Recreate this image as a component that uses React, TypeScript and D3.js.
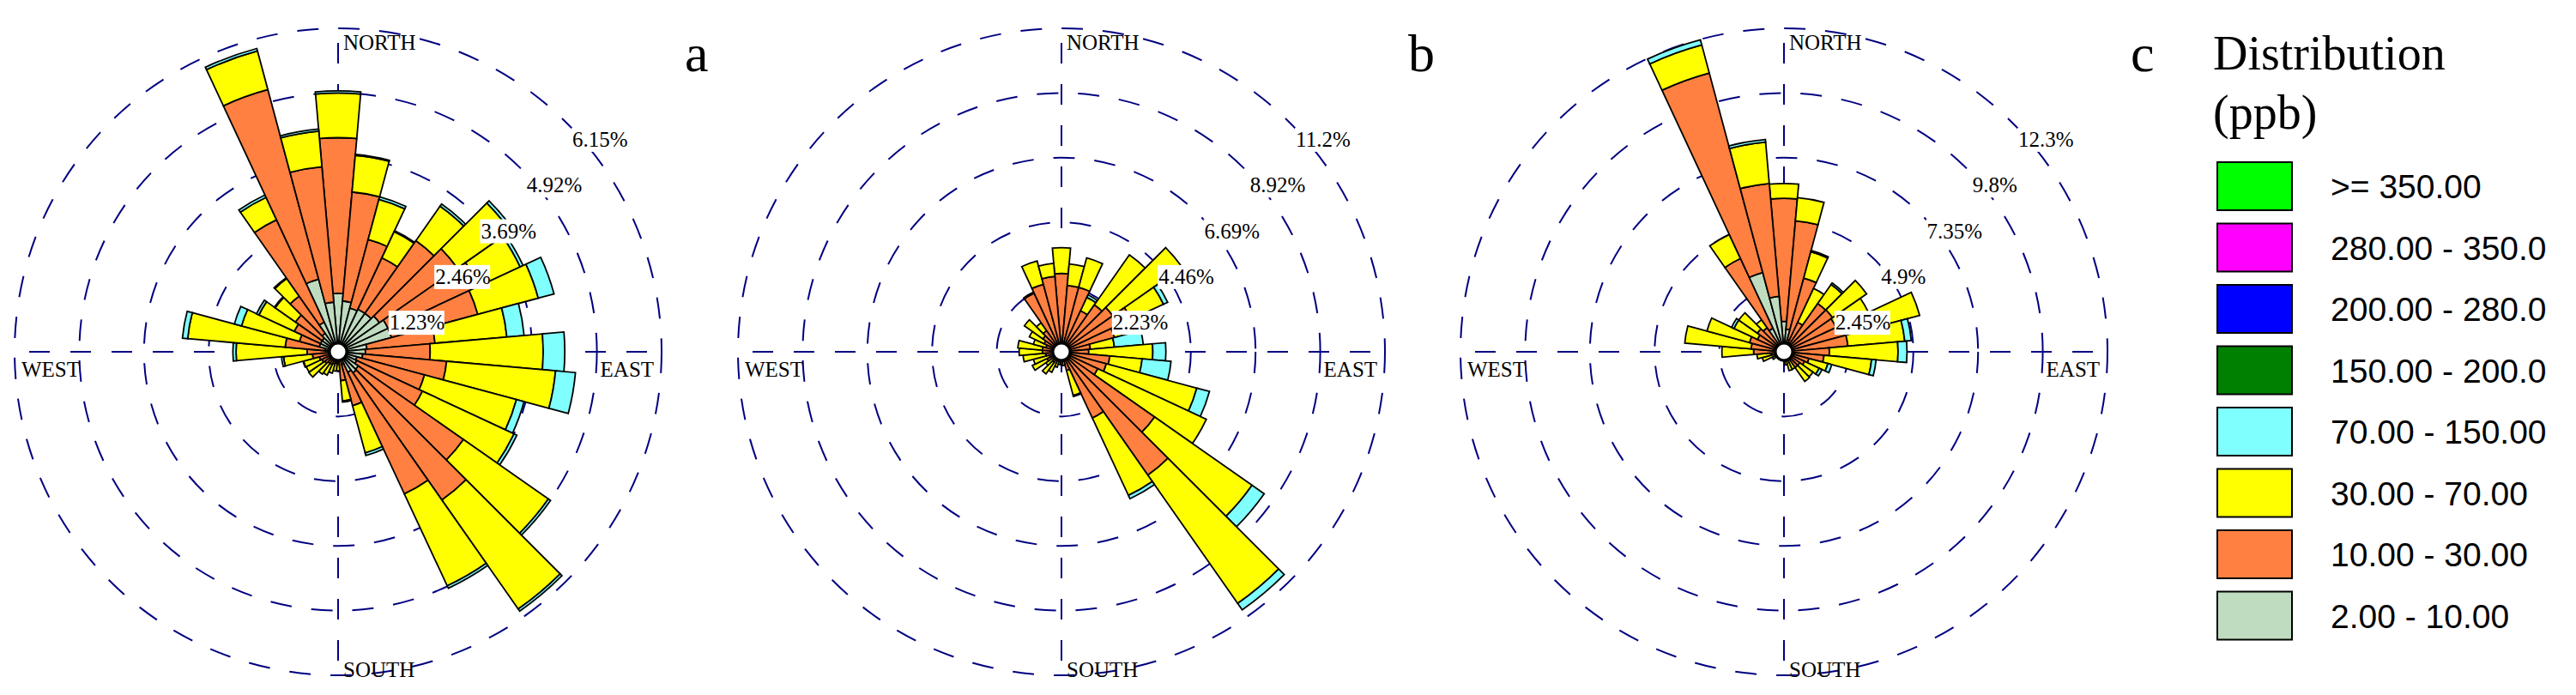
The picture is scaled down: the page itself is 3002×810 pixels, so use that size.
import React, { useEffect } from "react";
import * as d3 from "d3";

// ---------- DATA ----------
const DIRECTIONS = [0, 10, 20, 30, 40, 50, 60, 70, 80, 90, 100, 110, 120, 130, 140, 150, 160, 170,
  180, 190, 200, 210, 220, 230, 240, 250, 260, 270, 280, 290, 300, 310, 320, 330, 340, 350];

// Legend classes (top to bottom as in the legend)
const CLASS_LABELS = [">= 350.00", "280.00 - 350.0", "200.00 - 280.0", "150.00 - 200.0",
  "70.00 - 150.00", "30.00 - 70.00", "10.00 - 30.00", "2.00 - 10.00"];
const CLASS_COLORS = ["#00FF00", "#FF00FF", "#0000FF", "#008000", "#80FFFF", "#FFFF00", "#FF8040", "#C0DCC0"];
// colours of the stacked layers, inner to outer: 2-10, 10-30, 30-70, 70-150
const LAYER_COLORS = ["#C0DCC0", "#FF8040", "#FFFF00", "#80FFFF"];

// Panel a: frequency (%) per direction and class
const A_2_10 = [1.11, 0.97, 0.86, 0.89, 0.89, 0.96, 1.05, 1.05, 0.55, 0.52, 0.47, 0.37, 0.39, 0.47, 0.49, 0.43, 0.25, 0.12,
  0.06, 0.06, 0.06, 0.06, 0.06, 0.06, 0.06, 0.06, 0.12, 0.18, 0.25, 0.37, 0.37, 0.37, 0.43, 0.62, 1.43, 0.95];
const A_10_30 = [2.96, 2.08, 1.35, 1.08, 1.69, 1.81, 1.91, 1.70, 1.30, 1.23, 1.60, 1.33, 1.38, 2.44, 2.95, 2.55, 0.81, 0.43,
  0.18, 0.16, 0.18, 0.21, 0.21, 0.25, 0.28, 0.31, 0.37, 0.41, 0.76, 0.39, 0.55, 0.62, 0.86, 2.15, 3.73, 2.58];
const A_30_70 = [0.85, 0.70, 0.79, 0.55, 0.80, 1.23, 0.86, 1.19, 1.37, 2.15, 2.08, 1.81, 1.92, 1.97, 2.53, 1.93, 0.93, 0.39,
  0.12, 0.15, 0.18, 0.22, 0.25, 0.37, 0.33, 0.31, 0.55, 1.35, 1.86, 1.14, 0.74, 0.47, 0.41, 0.47, 0.76, 0.68];
const A_70_150 = [0.04, 0.02, 0.05, 0.02, 0.05, 0.06, 0.06, 0.31, 0.33, 0.41, 0.38, 0.15, 0.06, 0.05, 0.05, 0.05, 0.05, 0.02,
  0, 0, 0, 0, 0, 0, 0, 0.01, 0.04, 0.06, 0.10, 0.14, 0.05, 0.02, 0.02, 0.05, 0.05, 0.04];
const A_TICKS = [1.23, 2.46, 3.69, 4.92, 6.15];
const A_TICK_LABELS = ["1.23%", "2.46%", "3.69%", "4.92%", "6.15%"];

// Panel b
const B_2_10 = [0.11, 0.11, 0.11, 0.11, 0.11, 0.11, 0.11, 0.11, 0.11, 0.11, 0.11, 0.11, 0.11, 0.11, 0.11, 0.11, 0.07, 0.04,
  0.04, 0.04, 0.04, 0.04, 0.04, 0.04, 0.04, 0.04, 0.04, 0.04, 0.04, 0.04, 0.04, 0.07, 0.07, 0.09, 0.11, 0.11];
const B_10_30 = [2.59, 2.19, 2.19, 1.45, 1.87, 2.05, 2.54, 1.78, 0.89, 0.83, 1.56, 1.49, 1.27, 3.81, 5.08, 2.41, 0.60, 0.22,
  0.18, 0.18, 0.22, 0.29, 0.40, 0.29, 0.51, 0.40, 0.51, 0.62, 0.62, 0.51, 0.62, 0.71, 0.82, 2.14, 2.30, 2.50];
const B_30_70 = [0.89, 0.74, 1.05, 0.51, 2.10, 2.92, 1.23, 0.78, 0.83, 2.21, 1.12, 3.23, 4.13, 4.10, 5.40, 2.94, 0.89, 0.22,
  0.22, 0.22, 0.29, 0.45, 0.49, 0.33, 0.56, 0.56, 0.78, 0.80, 0.85, 0.45, 0.56, 0.78, 0.33, 0.04, 0.83, 0.45];
const B_70_150 = [0, 0, 0, 0.09, 0, 0, 0.16, 0.04, 1.00, 0.45, 1.00, 0.45, 0, 0.51, 0.27, 0.13, 0.04, 0,
  0, 0, 0, 0, 0, 0, 0, 0, 0, 0, 0, 0, 0, 0, 0, 0, 0, 0];
const B_TICKS = [2.23, 4.46, 6.69, 8.92, 11.15];
const B_TICK_LABELS = ["2.23%", "4.46%", "6.69%", "8.92%", "11.2%"];

// Panel c
const C_2_10 = [1.15, 0.86, 0.49, 0.37, 0.37, 0.29, 0.29, 0.25, 0.25, 0.20, 0.12, 0.12, 0.12, 0.12, 0.12, 0.07, 0.05, 0.05,
  0.05, 0.05, 0.05, 0.05, 0.05, 0.05, 0.05, 0.07, 0.07, 0.12, 0.12, 0.20, 0.20, 0.25, 0.25, 0.98, 3.11, 2.11];
const C_10_30 = [4.66, 4.12, 2.40, 0.86, 1.86, 1.96, 1.89, 2.28, 2.18, 1.52, 1.40, 0.86, 0.74, 0.61, 0.61, 0.29, 0.25, 0.20,
  0.07, 0.07, 0.07, 0.07, 0.07, 0.07, 0.15, 0.29, 0.42, 1.03, 1.13, 1.15, 0.91, 0.98, 0.86, 2.92, 7.82, 4.29];
const C_30_70 = [0.56, 0.88, 1.03, 1.42, 0.88, 1.57, 1.35, 2.79, 2.16, 2.60, 1.81, 0.74, 0.61, 0.61, 0.64, 0.37, 0.44, 0.25,
  0.12, 0.12, 0.12, 0.17, 0.12, 0.12, 0.29, 0.49, 0.54, 1.20, 2.52, 1.67, 0.98, 0.86, 0.37, 1.00, 1.10, 1.57];
const C_70_150 = [0, 0, 0.05, 0, 0.07, 0, 0, 0, 0.25, 0.34, 0.17, 0.15, 0.12, 0, 0, 0, 0, 0,
  0, 0, 0, 0, 0, 0, 0, 0, 0, 0, 0, 0, 0.10, 0, 0, 0, 0.20, 0.10];
const C_TICKS = [2.45, 4.9, 7.35, 9.8, 12.25];
const C_TICK_LABELS = ["2.45%", "4.9%", "7.35%", "9.8%", "12.3%"];

const COMPASS = ["NORTH", "SOUTH", "WEST", "EAST"];
const PANEL_LETTERS = ["a", "b", "c"];

// ---------- LAYOUT ----------
const W = 3002;
const H = 810;
const CY = 410;
const R = 377;
const CENTERS = [394, 1237, 2079];
const NAVY = "#000080";
const SERIF = "'Liberation Serif', 'Times New Roman', Times, serif";
const SANS = "'Liberation Sans', Arial, Helvetica, sans-serif";

type RoseProps = {
  cx: number;
  layers: number[][];
  ticks: number[];
  tickLabels: string[];
  letter: string;
};

function Rose({ cx, layers, ticks, tickLabels, letter }: RoseProps) {
  const r = d3.scaleLinear().domain([0, ticks[ticks.length - 1]]).range([0, R]);
  const arc = d3.arc<any>();
  const half = (5 * Math.PI) / 180;

  const segments: { d: string; fill: string; key: string }[] = [];
  DIRECTIONS.forEach((dir, i) => {
    const a = (dir * Math.PI) / 180;
    let cum = 0;
    layers.forEach((layer, li) => {
      const v = layer[i];
      if (v <= 0) return;
      const r0 = r(cum);
      cum += v;
      const r1 = r(cum);
      const d = arc({ innerRadius: r0, outerRadius: r1, startAngle: a - half, endAngle: a + half }) as string;
      segments.push({ d, fill: LAYER_COLORS[li], key: `${dir}-${li}` });
    });
  });

  const axisLen = R;
  const dash = "24 24";
  return (
    <g>
      {/* rings */}
      {ticks.map((t, i) => (
        <circle key={"c" + i} cx={cx} cy={CY} r={r(t)} fill="none" stroke={NAVY} strokeWidth={2}
          strokeDasharray="25 23" />
      ))}
      {/* axes drawn from the centre outwards */}
      {[[0, -1], [0, 1], [-1, 0], [1, 0]].map(([dx, dy], i) => (
        <line key={"ax" + i} x1={cx} y1={CY} x2={cx + dx * axisLen} y2={CY + dy * axisLen}
          stroke={NAVY} strokeWidth={2} strokeDasharray={dash} />
      ))}
      {/* bars */}
      <g transform={`translate(${cx},${CY})`}>
        {segments.map((s) => (
          <path key={s.key} d={s.d} fill={s.fill} stroke="#000" strokeWidth={1.8} strokeLinejoin="miter" />
        ))}
        <circle r={10} fill="#fff" stroke="#000" strokeWidth={3} />
      </g>
      {/* compass labels */}
      <g fontFamily={SERIF} fontSize={25} fill="#000">
        <text x={cx + 6} y={CY - R + 25}>{COMPASS[0]}</text>
        <text x={cx + 6} y={CY + R + 2}>{COMPASS[1]}</text>
        <text x={cx - R + 8} y={CY + 29}>{COMPASS[2]}</text>
        <text x={cx + r(ticks[3]) + 4} y={CY + 29}>{COMPASS[3]}</text>
      </g>
      {/* ring labels */}
      <g fontFamily={SERIF} fontSize={25} fill="#000">
        {ticks.map((t, i) => {
          const p = r(t) * Math.SQRT1_2;
          const x = cx + p + 5.5;
          const y = CY - p + 5.5;
          const w = tickLabels[i].length * 12.6 + 2;
          return (
            <g key={"tl" + i}>
              <rect x={x} y={y} width={w} height={28} fill="#fff" />
              <text x={x + 1} y={y + 22}>{tickLabels[i]}</text>
            </g>
          );
        })}
      </g>
      <text x={cx + 404} y={83} fontFamily={SERIF} fontSize={62} fill="#000">{letter}</text>
    </g>
  );
}

function Legend() {
  const x0 = 2584;
  const top0 = 189;
  const pitch = 71.5;
  return (
    <g>
      <text x={2579} y={81} fontFamily={SERIF} fontSize={56} fill="#000">Distribution</text>
      <text x={2579} y={150} fontFamily={SERIF} fontSize={56} fill="#000">(ppb)</text>
      {CLASS_LABELS.map((lab, i) => (
        <g key={lab}>
          <rect x={x0} y={top0 + i * pitch} width={87} height={56} fill={CLASS_COLORS[i]} stroke="#000" strokeWidth={2} />
          <text x={2716} y={top0 + i * pitch + 28} dy="0.36em" fontFamily={SANS} fontSize={39} fill="#000">{lab}</text>
        </g>
      ))}
    </g>
  );
}

export default function App() {
  useEffect(() => {
    document.body.style.margin = "0";
    document.body.style.overflow = "hidden";
  }, []);
  const roses = [
    { layers: [A_2_10, A_10_30, A_30_70, A_70_150], ticks: A_TICKS, labels: A_TICK_LABELS },
    { layers: [B_2_10, B_10_30, B_30_70, B_70_150], ticks: B_TICKS, labels: B_TICK_LABELS },
    { layers: [C_2_10, C_10_30, C_30_70, C_70_150], ticks: C_TICKS, labels: C_TICK_LABELS },
  ];
  return (
    <svg width={W} height={H} viewBox={`0 0 ${W} ${H}`}
      style={{ position: "absolute", left: 0, top: 0, background: "#fff", display: "block" }}>
      <rect width={W} height={H} fill="#fff" />
      {roses.map((ro, i) => (
        <Rose key={i} cx={CENTERS[i]} layers={ro.layers} ticks={ro.ticks} tickLabels={ro.labels}
          letter={PANEL_LETTERS[i]} />
      ))}
      <Legend />
    </svg>
  );
}
